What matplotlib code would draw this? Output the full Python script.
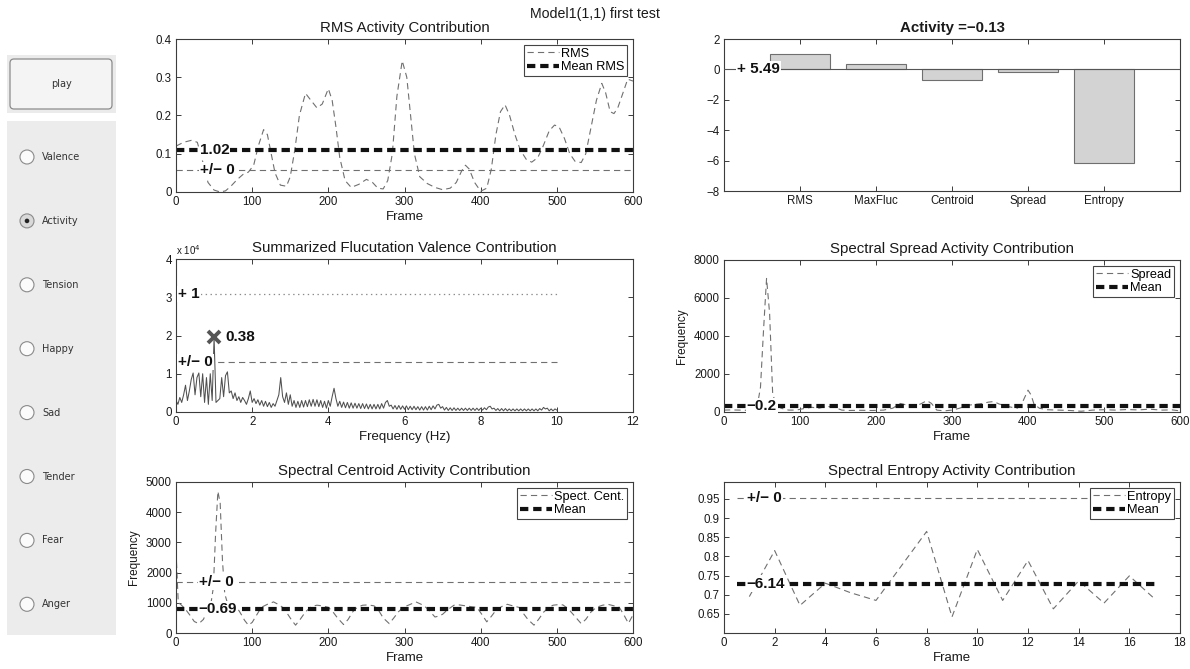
import numpy as np
import matplotlib
matplotlib.use('Agg')
import matplotlib.pyplot as plt
from matplotlib.patches import FancyBboxPatch, Rectangle, Circle

plt.rcParams['font.family'] = ['Liberation Sans', 'DejaVu Sans']
plt.rcParams['lines.scale_dashes'] = False
plt.rcParams['axes.unicode_minus'] = True

# ---------------- data ----------------
suptitle = 'Model1(1,1) first test'

rms_frames = [0, 10, 20, 28, 35, 42, 50, 58, 65, 72, 80, 88, 95, 102, 108, 115, 120, 125, 130, 137,
              145, 150, 156, 162, 170, 177, 185, 192, 200, 205, 210, 215, 222, 230, 240, 250, 258, 265,
              272, 278, 284, 290, 297, 303, 308, 313, 320, 330, 340, 350, 360, 368, 375, 380, 385, 392,
              400, 408, 414, 420, 426, 432, 438, 445, 452, 460, 467, 475, 482, 490, 497, 503, 510, 517,
              524, 532, 538, 545, 552, 559, 564, 570, 575, 580, 587, 593, 600]
rms_values = [0.12, 0.13, 0.135, 0.13, 0.08, 0.025, 0.005, 0.0, 0.003, 0.015, 0.032, 0.046, 0.052, 0.07,
              0.12, 0.163, 0.15, 0.10, 0.05, 0.018, 0.015, 0.04, 0.11, 0.20, 0.258, 0.24, 0.22, 0.23,
              0.27, 0.24, 0.17, 0.09, 0.03, 0.012, 0.02, 0.033, 0.025, 0.01, 0.008, 0.03, 0.10, 0.25,
              0.343, 0.30, 0.20, 0.10, 0.04, 0.022, 0.012, 0.006, 0.01, 0.025, 0.055, 0.07, 0.06, 0.025,
              0.002, 0.01, 0.06, 0.15, 0.21, 0.228, 0.20, 0.15, 0.11, 0.085, 0.078, 0.09, 0.12, 0.16,
              0.175, 0.17, 0.14, 0.10, 0.08, 0.077, 0.10, 0.17, 0.24, 0.284, 0.26, 0.21, 0.205, 0.22,
              0.26, 0.295, 0.29]
rms_mean = 0.11
rms_ref = 0.058
rms_mean_label = '1.02'
rms_ref_label = '+/\u2212 0'

bar_categories = ['RMS', 'MaxFluc', 'Centroid', 'Spread', 'Entropy']
bar_values = [1.02, 0.38, -0.69, -0.2, -6.14]
bar_title = 'Activity =\u22120.13'
bar_intercept_label = '+ 5.49'

# fluctuation spectrum (units of 1e4), 0..10 Hz
fluc_values = [
    0.30, 0.20, 0.38, 0.25, 0.45, 0.70, 0.30, 0.55, 0.85, 1.02, 0.45, 0.90, 1.02, 0.40, 1.00, 0.25, 0.90, 0.20, 1.00, 0.30,
    1.95, 0.25, 0.30, 0.35, 0.90, 0.40, 0.95, 1.05, 0.50, 0.55, 0.35, 0.50, 0.30, 0.40, 0.25, 0.38, 0.30, 0.20, 0.35, 0.55,
    0.25, 0.35, 0.22, 0.32, 0.18, 0.30, 0.15, 0.28, 0.14, 0.25, 0.12, 0.22, 0.15, 0.30, 0.45, 0.90, 0.40, 0.25, 0.50, 0.20,
    0.45, 0.15, 0.30, 0.12, 0.28, 0.12, 0.30, 0.13, 0.30, 0.14, 0.32, 0.15, 0.33, 0.15, 0.32, 0.14, 0.30, 0.12, 0.28, 0.10,
    0.30, 0.15, 0.40, 0.62, 0.35, 0.15, 0.28, 0.12, 0.26, 0.11, 0.25, 0.10, 0.24, 0.10, 0.23, 0.10, 0.22, 0.09, 0.22, 0.09,
    0.21, 0.08, 0.20, 0.08, 0.20, 0.08, 0.20, 0.08, 0.22, 0.10, 0.25, 0.30, 0.15, 0.18, 0.08, 0.17, 0.07, 0.17, 0.07, 0.16,
    0.07, 0.16, 0.06, 0.15, 0.06, 0.15, 0.06, 0.14, 0.05, 0.14, 0.05, 0.14, 0.05, 0.15, 0.06, 0.16, 0.08, 0.18, 0.20, 0.10,
    0.14, 0.05, 0.12, 0.04, 0.11, 0.04, 0.11, 0.04, 0.10, 0.04, 0.10, 0.04, 0.10, 0.04, 0.10, 0.04, 0.10, 0.04, 0.10, 0.04,
    0.10, 0.05, 0.11, 0.06, 0.13, 0.15, 0.08, 0.10, 0.04, 0.09, 0.03, 0.09, 0.03, 0.09, 0.03, 0.08, 0.03, 0.08, 0.03, 0.08,
    0.03, 0.08, 0.03, 0.08, 0.03, 0.08, 0.03, 0.08, 0.03, 0.08, 0.03, 0.09, 0.05, 0.12, 0.08, 0.10, 0.03, 0.08, 0.03, 0.08,
    0.05]
fluc_max_freq = 1.0
fluc_max_value = 1.97
fluc_max_label = '0.38'
fluc_plus_level = 3.08
fluc_plus_label = '+ 1'
fluc_ref_level = 1.31
fluc_ref_label = '+/\u2212 0'

spread_frames = [0, 10, 20, 30, 40, 45, 48, 52, 56, 60, 64, 68, 75, 85, 95, 105, 115, 125, 135, 145, 155,
                 165, 180, 195, 210, 222, 232, 242, 252, 260, 267, 273, 280, 290, 300, 310, 320, 330, 340,
                 348, 355, 362, 370, 378, 386, 392, 396, 400, 404, 408, 415, 425, 440, 455, 470, 485, 500,
                 515, 530, 545, 560, 575, 590, 600]
spread_values = [100, 110, 100, 90, 150, 600, 1300, 4300, 7030, 5200, 1000, 400, 200, 100, 100, 180, 250,
                 200, 300, 250, 100, 80, 90, 80, 100, 200, 450, 350, 300, 450, 600, 450, 100, 60, 100, 200,
                 350, 400, 450, 520, 550, 420, 330, 250, 200, 450, 800, 1150, 900, 400, 200, 120, 100, 80,
                 40, 100, 120, 100, 130, 110, 150, 100, 110, 60]
spread_mean = 330
spread_mean_label = '\u22120.2'

cent_frames = [0, 3, 6, 12, 18, 24, 30, 36, 42, 46, 49, 52, 55, 58, 61, 64, 68, 74, 80, 86, 90, 95, 100,
               106, 112, 120, 128, 134, 140, 146, 152, 157, 163, 170, 178, 185, 192, 200, 206, 212, 220,
               226, 232, 238, 245, 252, 260, 266, 272, 280, 286, 292, 298, 305, 315, 322, 328, 334, 340,
               345, 350, 357, 365, 372, 380, 388, 395, 402, 408, 414, 420, 428, 435, 442, 450, 456, 462,
               470, 476, 483, 490, 495, 502, 508, 515, 522, 532, 538, 545, 552, 560, 567, 575, 582, 588,
               594, 600]
cent_values = [2700, 1000, 950, 800, 600, 380, 310, 450, 800, 1000, 1500, 3300, 4690, 4300, 2400, 1300,
               950, 900, 850, 600, 420, 260, 350, 600, 850, 950, 1030, 950, 850, 650, 420, 260, 450, 700,
               880, 920, 900, 850, 700, 500, 280, 450, 700, 850, 920, 930, 900, 750, 500, 310, 500, 700,
               850, 920, 1030, 950, 850, 700, 530, 560, 620, 780, 920, 930, 900, 870, 850, 600, 370, 550,
               750, 880, 950, 900, 850, 650, 450, 260, 450, 700, 850, 920, 940, 930, 800, 600, 310, 450,
               700, 850, 920, 950, 900, 850, 600, 320, 600]
cent_mean = 790
cent_ref = 1680
cent_mean_label = '\u22120.69'
cent_ref_label = '+/\u2212 0'

ent_frames = [1, 2, 3, 4, 5, 6, 7, 8, 9, 10, 11, 12, 13, 14, 15, 16, 17]
ent_values = [0.695, 0.815, 0.672, 0.73, 0.705, 0.685, 0.775, 0.865, 0.642, 0.818, 0.685, 0.789, 0.663,
              0.736, 0.678, 0.749, 0.689]
ent_mean = 0.729
ent_ref = 0.952
ent_mean_label = '\u22126.14'
ent_ref_label = '+/\u2212 0'

radio_labels = ['Valence', 'Activity', 'Tension', 'Happy', 'Sad', 'Tender', 'Fear', 'Anger']
radio_selected = 'Activity'

# ---------------- style ----------------
AX = '#3c3c3c'
TXT = '#1a1a1a'
THIN = dict(color='#707070', lw=0.8, dashes=(4.5, 3.0))
THICK = dict(color='#111111', lw=3.0, dashes=(6.0, 3.5))
TICK_FS = 8.3
TITLE_FS = 10.8
LABEL_FS = 9.5
LEG_FS = 9.2

FW, FH = 1190, 669
fig = plt.figure(figsize=(FW / 100, FH / 100), dpi=100)


def add_ax(x0, top, bot, w=457):
    return fig.add_axes([x0 / FW, 1 - bot / FH, w / FW, (bot - top) / FH])


def style(ax):
    for s in ax.spines.values():
        s.set_color(AX)
        s.set_linewidth(0.8)
    ax.tick_params(direction='in', top=True, right=True, length=3.5, width=0.7,
                   colors=AX, labelcolor=TXT, labelsize=TICK_FS, pad=3)


def tag(ax, x, y, s):
    ax.text(x, y, s, fontsize=11, fontweight='bold', va='center', ha='left', color='#111111',
            bbox=dict(facecolor='white', edgecolor='none', pad=0.8), zorder=20, clip_on=False)


def legend(ax, handles):
    leg = ax.legend(handles=handles, loc='upper right', fontsize=LEG_FS, frameon=True, fancybox=False,
                    edgecolor='#444444', framealpha=1, borderpad=0.25, labelspacing=0.1,
                    handlelength=2.5, handletextpad=0.15, borderaxespad=0.45)
    leg.get_frame().set_linewidth(0.8)
    leg.set_zorder(30)


fig.text(0.5, 1 - 14 / FH, suptitle, ha='center', va='center', fontsize=10.2, color=TXT)

# ---- RMS ----
ax1 = add_ax(176, 39, 192)
style(ax1)
l_rms, = ax1.plot(rms_frames, rms_values, label='RMS', **THIN)
ax1.axhline(rms_ref, **THIN)
l_mean, = ax1.plot([rms_frames[0], rms_frames[-1]], [rms_mean, rms_mean], label='Mean RMS', **THICK)
ax1.set_xlim(0, 600)
ax1.set_ylim(0, 0.4)
ax1.set_xticks(range(0, 601, 100))
ax1.set_yticks([0, 0.1, 0.2, 0.3, 0.4])
ax1.set_yticklabels(['0', '0.1', '0.2', '0.3', '0.4'])
ax1.set_title('RMS Activity Contribution', fontsize=TITLE_FS, color=TXT, pad=5)
ax1.set_xlabel('Frame', fontsize=LABEL_FS, color=TXT, labelpad=2)
tag(ax1, 31, rms_mean, rms_mean_label)
tag(ax1, 31, rms_ref, rms_ref_label)
legend(ax1, [l_rms, l_mean])

# ---- bar chart ----
ax2 = add_ax(724, 39, 191, 456)
style(ax2)
xs = np.arange(1, len(bar_categories) + 1)
ax2.bar(xs, bar_values, width=0.8, color='#d3d3d3', edgecolor='#6f6f6f', linewidth=0.8, zorder=2)
ax2.axhline(0, color='#555555', lw=0.8, zorder=3)
ax2.set_xlim(0, len(bar_categories) + 1)
ax2.set_ylim(-8, 2)
ax2.set_xticks(xs)
ax2.set_xticklabels(bar_categories)
ax2.set_yticks(range(-8, 3, 2))
ax2.set_title(bar_title, fontsize=TITLE_FS, fontweight='bold', color=TXT, pad=5)
tag(ax2, 0.17, 0, bar_intercept_label)

# ---- fluctuation ----
ax3 = add_ax(176, 259, 412)
style(ax3)
fluc_freq = np.linspace(0, 10, len(fluc_values))
ax3.plot(fluc_freq, fluc_values, color='#505050', lw=0.75)
ax3.hlines(fluc_plus_level, fluc_freq[0], fluc_freq[-1], color='#8a8a8a', lw=0.9, linestyles=(0, (1, 2.5)))
ax3.hlines(fluc_ref_level, fluc_freq[0], fluc_freq[-1], color='#707070', lw=0.8, linestyles=(0, (4.5, 3.0)))
ax3.plot(fluc_max_freq, fluc_max_value, marker='x', ms=9, mew=2.8, color='#555555', zorder=5)
ax3.set_xlim(0, 12)
ax3.set_ylim(0, 4)
ax3.set_xticks(range(0, 13, 2))
ax3.set_yticks(range(0, 5))
ax3.text(0, 1.015, r'x 10$^4$', transform=ax3.transAxes, fontsize=7, color=TXT, va='bottom', ha='left')
ax3.set_title('Summarized Flucutation Valence Contribution', fontsize=TITLE_FS, color=TXT, pad=5)
ax3.set_xlabel('Frequency (Hz)', fontsize=LABEL_FS, color=TXT, labelpad=2)
tag(ax3, 0.05, fluc_plus_level, fluc_plus_label)
tag(ax3, 0.05, fluc_ref_level, fluc_ref_label)
tag(ax3, fluc_max_freq + 0.3, fluc_max_value, fluc_max_label)

# ---- spread ----
ax4 = add_ax(724, 260, 412, 456)
style(ax4)
l_sp, = ax4.plot(spread_frames, spread_values, label='Spread', **THIN)
l_spm, = ax4.plot([spread_frames[0], spread_frames[-1]], [spread_mean, spread_mean], label='Mean', **THICK)
ax4.set_xlim(0, 600)
ax4.set_ylim(0, 8000)
ax4.set_xticks(range(0, 601, 100))
ax4.set_yticks(range(0, 8001, 2000))
ax4.set_title('Spectral Spread Activity Contribution', fontsize=TITLE_FS, color=TXT, pad=5)
ax4.set_xlabel('Frame', fontsize=LABEL_FS, color=TXT, labelpad=2)
ax4.set_ylabel('Frequency', fontsize=8.5, color=TXT, labelpad=4)
tag(ax4, 30, spread_mean, spread_mean_label)
legend(ax4, [l_sp, l_spm])

# ---- centroid ----
ax5 = add_ax(176, 482, 633)
style(ax5)
l_c, = ax5.plot(cent_frames, cent_values, label='Spect. Cent.', **THIN)
ax5.axhline(cent_ref, **THIN)
l_cm, = ax5.plot([cent_frames[0], cent_frames[-1]], [cent_mean, cent_mean], label='Mean', **THICK)
ax5.set_xlim(0, 600)
ax5.set_ylim(0, 5000)
ax5.set_xticks(range(0, 601, 100))
ax5.set_yticks(range(0, 5001, 1000))
ax5.set_title('Spectral Centroid Activity Contribution', fontsize=TITLE_FS, color=TXT, pad=5)
ax5.set_xlabel('Frame', fontsize=LABEL_FS, color=TXT, labelpad=2)
ax5.set_ylabel('Frequency', fontsize=8.5, color=TXT, labelpad=4)
tag(ax5, 30, cent_ref, cent_ref_label)
tag(ax5, 30, cent_mean, cent_mean_label)
legend(ax5, [l_c, l_cm])

# ---- entropy ----
ax6 = add_ax(724, 482, 633, 456)
style(ax6)
l_e, = ax6.plot(ent_frames, ent_values, label='Entropy', **THIN)
ax6.hlines(ent_ref, ent_frames[0] - 0.5, ent_frames[-1], color=THIN['color'], lw=THIN['lw'],
           linestyles=(0, THIN['dashes']))
l_em, = ax6.plot([ent_frames[0] - 0.5, ent_frames[-1]], [ent_mean, ent_mean], label='Mean', **THICK)
ax6.set_xlim(0, 18)
ax6.set_ylim(0.6, 0.994)
ax6.set_xticks(range(0, 19, 2))
ax6.set_yticks([0.65, 0.7, 0.75, 0.8, 0.85, 0.9, 0.95])
ax6.set_yticklabels(['0.65', '0.7', '0.75', '0.8', '0.85', '0.9', '0.95'])
ax6.set_title('Spectral Entropy Activity Contribution', fontsize=TITLE_FS, color=TXT, pad=5)
ax6.set_xlabel('Frame', fontsize=LABEL_FS, color=TXT, labelpad=2)
tag(ax6, 0.9, ent_ref, ent_ref_label)
tag(ax6, 0.9, ent_mean, ent_mean_label)
legend(ax6, [l_e, l_em])

# ---- left UI panel ----
pax = fig.add_axes([0, 0, 130 / FW, 1])
pax.set_xlim(0, 130)
pax.set_ylim(FH, 0)
pax.axis('off')
pax.add_patch(Rectangle((7, 55), 109, 58, color='#ebebeb', lw=0))
pax.add_patch(FancyBboxPatch((10, 59), 102, 50, boxstyle='round,pad=0,rounding_size=4',
                             fc='#f4f4f4', ec='#8c8c8c', lw=0.9))
pax.text(61, 84, 'play', ha='center', va='center', fontsize=7, color='#333333', family='DejaVu Sans')
pax.add_patch(Rectangle((7, 121), 109, 514, color='#ececec', lw=0))
for i, lab in enumerate(radio_labels):
    y = 157 + i * 63.9
    sel = lab == radio_selected
    pax.add_patch(Circle((27, y), 7, fc='#d9d9d9' if sel else '#fbfbfb', ec='#8a8a8a', lw=0.8))
    if sel:
        pax.add_patch(Circle((27, y), 2.3, fc='#222222', ec='none'))
    pax.text(42, y, lab, ha='left', va='center', fontsize=7, color='#333333', family='DejaVu Sans')

fig.savefig('out.png', dpi=100)
